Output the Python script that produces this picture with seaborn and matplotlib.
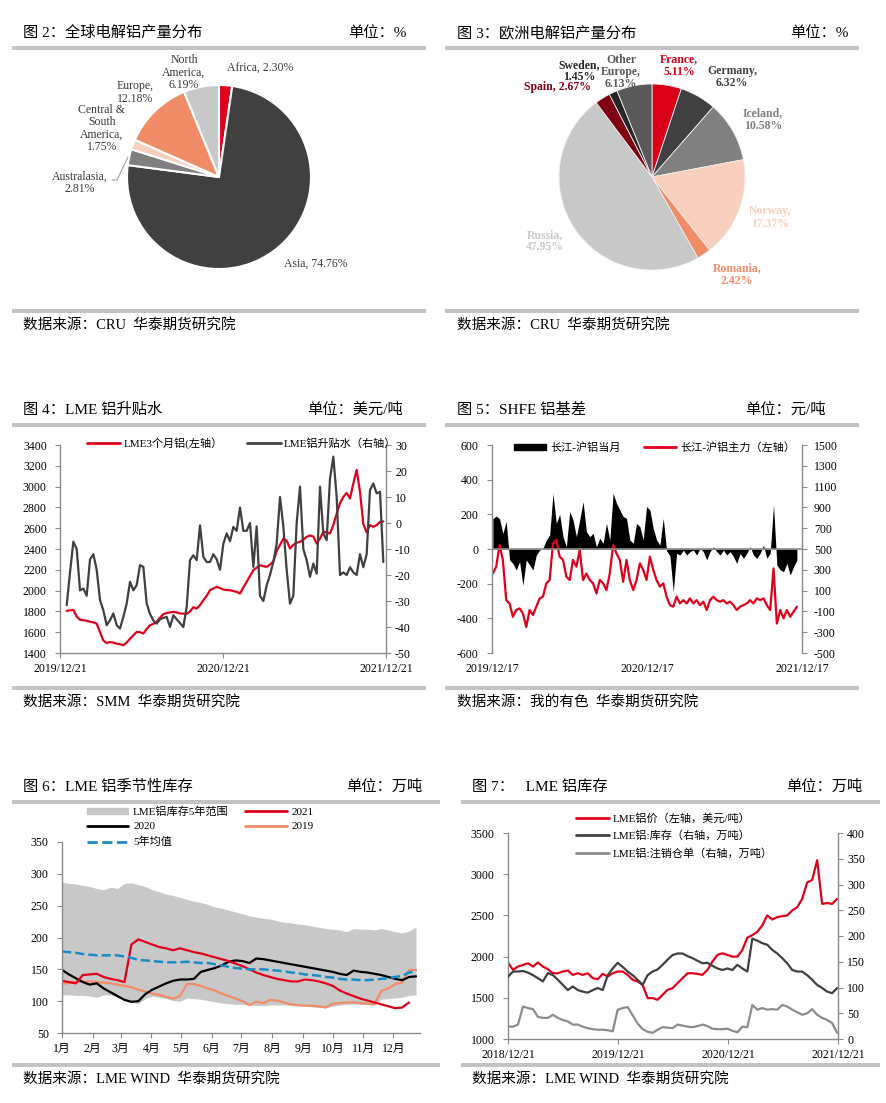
import matplotlib
matplotlib.use("Agg")
import matplotlib.pyplot as plt
import seaborn as sns
import pandas as pd
from matplotlib.lines import Line2D
from matplotlib.patches import Patch, Rectangle

sns.set_theme(style="ticks")
plt.rcParams["font.family"] = ["Liberation Serif", "Noto Sans CJK SC"]
plt.rcParams["axes.unicode_minus"] = False
plt.rcParams["text.color"] = "black"

W, H = 886, 1103
RED = "#E0001B"
DARK = "#404040"
GREY = "#8C8C8C"
AXC = "#8A8A8A"
BAR = "#C3C3C3"

# ---------------- data ----------------
# fig 2: world primary aluminium output share (%)
world_regions = ["Africa", "Asia", "Australasia", "Central &\nSouth\nAmerica", "Europe", "North\nAmerica"]
world_share = [2.30, 74.76, 2.81, 1.75, 12.18, 6.19]
world_colors = [RED, "#404040", "#7F7F7F", "#F9CFBD", "#F08C68", "#C8C8C8"]

# fig 3: europe output share (%)
europe_countries = ["France", "Germany", "Iceland", "Norway", "Romania", "Russia", "Spain", "Sweden", "Other\nEurope"]
europe_share = [5.11, 6.32, 10.58, 17.37, 2.42, 47.95, 2.67, 1.45, 6.13]
europe_colors = ["#DA0018", "#404040", "#808080", "#F9CFBD", "#F08C68", "#C8C8C8", "#7F0012", "#262626", "#595959"]

# fig 4: LME 3M price (left) and LME premium (right)
lme3m = [1805, 1810, 1815, 1750, 1720, 1715, 1710, 1700, 1695, 1683,
         1600, 1520, 1495, 1506, 1500, 1490, 1485, 1474, 1500, 1538,
         1570, 1602, 1600, 1587, 1630, 1667, 1680, 1700, 1740, 1773,
         1785, 1790, 1795, 1790, 1780, 1779, 1775, 1800, 1840, 1827,
         1860, 1907, 1950, 2004, 2020, 2036, 2025, 2010, 2005, 2004,
         1995, 1988, 1972, 2030, 2084, 2140, 2196, 2220, 2244, 2235,
         2228, 2250, 2280, 2380, 2440, 2500, 2480, 2405, 2440, 2460,
         2469, 2490, 2517, 2530, 2520, 2453, 2500, 2565, 2560, 2549,
         2630, 2740, 2840, 2900, 2940, 2886, 3031, 3160, 2950, 2640,
         2560, 2630, 2613, 2630, 2660, 2665]
lme_premium = [-31.6, -19, -7.2, -10, -25.9, -25.2, -28, -14, -12, -18,
               -29.7, -33.6, -39.3, -37.4, -34.8, -39.3, -40.6, -36.1, -31, -22.6,
               -25.9, -23.9, -16.2, -16.9, -31, -35, -37.5, -38.7, -37, -36.5,
               -36.1, -40, -35.5, -37, -38.5, -40, -32.3, -14.3, -12.4, -14.3,
               -0.9, -13, -15, -15, -12, -14, -18, -8, -4, -7,
               -1.5, -3, 6, -3, -3, 0, -16.9, -1.3, -28, -30,
               -24, -20, -15, -8, 10, -1.3, -18, -31, -28, 0,
               14, -10, -14.3, -20.7, -15.6, -19.5, 14, -4, -6.6, 17,
               25.5, 10, -20, -19, -20, -17, -19, -20, -12, -17,
               -12, 12.7, 15.2, 11.4, 12, -15]
lme_dates = pd.date_range("2020-01-05", "2021-12-15", periods=len(lme3m))

# fig 5: SHFE basis
spot_basis = [175, 190, 175, 90, 160, -63, -83, -121, -73, -210,
              -63, -92, -121, -35, -6, 4, 52, 81, 320, 148,
              200, 71, 13, 216, 167, 71, 167, 273, 100, 71,
              90, 13, 62, 33, 148, 52, 322, 264, 225, 187,
              177, 52, 33, 148, 129, 52, 245, 225, 119, 52,
              23, 177, -10, -40, -246, -25, -35, -6, -35, -15,
              -6, -35, 4, -15, -63, -15, 13, -15, -35, -6,
              -35, -15, -44, -83, -25, -54, -25, 13, -35, -54,
              -25, 23, -54, -25, 254, -92, -120, -131, -83, -150,
              -102, -63]
main_basis = [-141, -102, 23, -63, -295, -314, -391, -352, -343, -372,
              -450, -352, -381, -333, -285, -275, -198, -179, 33, 52,
              -44, -63, -160, -179, -63, -102, -6, -179, -141, -179,
              -198, -256, -179, -198, -237, -141, 23, -25, -63, -189,
              -63, -179, -237, -179, -83, -121, -179, -44, -121, -179,
              -217, -198, -275, -324, -333, -275, -314, -295, -314, -285,
              -314, -295, -324, -304, -352, -295, -275, -295, -304, -295,
              -314, -304, -324, -352, -333, -324, -314, -295, -314, -285,
              -295, -285, -324, -352, -112, -430, -352, -400, -352, -391,
              -362, -333]
basis_dates = pd.date_range("2019-12-19", "2021-12-05", periods=len(spot_basis))

# fig 6: LME seasonal stocks (10k t), weekly from Jan 1
week_day = list(range(0, 358, 7))
band_high = [287, 285, 284, 282, 280, 277, 275, 279, 277, 285,
             286, 283, 280, 275, 272, 268, 266, 263, 260, 257,
             255, 252, 248, 246, 243, 240, 237, 234, 232, 230,
             229, 226, 224, 223, 221, 220, 218, 216, 214, 213,
             212, 209, 214, 213, 213, 212, 214, 212, 209, 207,
             210, 217]
band_low = [110, 110, 109, 109, 108, 106, 110, 110, 106, 101,
            98, 96, 104, 108, 106, 104, 101, 100, 105, 104,
            103, 101, 99, 97, 96, 95, 95, 94, 93, 93,
            94, 94, 94, 93, 92, 92, 91, 90, 90, 92,
            94, 95, 95, 95, 95, 94, 103, 104, 105, 106,
            109, 110]
stock_2021 = [132, 130, 128, 141, 142, 143, 138, 135, 133, 130,
              189, 197, 193, 189, 185, 183, 180, 183, 180, 177,
              175, 172, 169, 166, 163, 159, 155, 150, 145, 141,
              138, 135, 133, 131, 131, 134, 133, 131, 128, 124,
              117, 112, 108, 104, 101, 98, 95, 92, 89, 90,
              98]
stock_2020 = [149, 142, 136, 130, 126, 128, 120, 114, 108, 102,
              99, 100, 111, 118, 123, 128, 132, 134, 134, 135,
              146, 149, 152, 156, 162, 164, 163, 160, 167, 166,
              164, 162, 160, 158, 156, 154, 152, 150, 148, 146,
              143, 141, 148, 146, 145, 143, 141, 138, 135, 133,
              138, 139]
stock_2019 = [127, 129, 130, 131, 131, 130, 129, 128, 126, 124,
              122, 118, 115, 112, 110, 107, 104, 108, 127, 127,
              124, 120, 117, 112, 108, 104, 100, 94, 99, 97,
              102, 101, 98, 95, 94, 93, 93, 92, 90, 96,
              97, 98, 98, 97, 96, 95, 116, 120, 127, 129,
              149, 149]
stock_avg5 = [178, 177, 176, 174, 173, 172, 172, 172, 172, 170,
              168, 165, 164, 163, 162, 161, 161, 161, 162, 161,
              160, 160, 158, 156, 154, 152, 151, 150, 150, 150,
              149, 148, 147, 145, 144, 142, 141, 140, 138, 137,
              135, 134, 134, 133, 133, 134, 135, 136, 138, 140,
              145, 147]
month_start = [0, 31, 59, 90, 120, 151, 181, 212, 243, 273, 304, 334]
month_names = ["1月", "2月", "3月", "4月", "5月", "6月", "7月", "8月", "9月", "10月", "11月", "12月"]

# fig 7: LME price, stocks, cancelled warrants
lme_price = [1928, 1839, 1879, 1899, 1919, 1879, 1928, 1879, 1847, 1798,
             1798, 1819, 1831, 1778, 1798, 1778, 1798, 1738, 1726, 1790,
             1758, 1798, 1819, 1819, 1778, 1718, 1698, 1657, 1496, 1496,
             1476, 1536, 1597, 1617, 1678, 1738, 1798, 1798, 1790, 1778,
             1839, 1940, 2020, 2040, 2020, 2000, 2000, 2081, 2230, 2260,
             2300, 2380, 2500, 2450, 2480, 2490, 2500, 2560, 2600, 2700,
             2900, 2930, 3169, 2640, 2650, 2640, 2700]
lme_stock = [121, 131, 131, 132, 129, 124, 118, 112, 128, 124,
             115, 105, 95, 102, 95, 92, 90, 95, 99, 95,
             124, 137, 148, 140, 131, 124, 115, 105, 124, 131,
             135, 144, 154, 163, 166, 166, 161, 157, 152, 147,
             148, 142, 137, 134, 137, 134, 144, 137, 131, 195,
             191, 186, 183, 173, 166, 157, 147, 134, 131, 131,
             124, 115, 105, 99, 92, 89, 99]
lme_cancel = [24, 24, 28, 63, 60, 58, 43, 41, 41, 47,
              41, 37, 34, 28, 28, 24, 21, 19, 18, 18,
              17, 15, 57, 60, 62, 46, 30, 19, 14, 12,
              18, 23, 22, 21, 28, 26, 24, 23, 25, 28,
              25, 20, 19, 19, 20, 16, 13, 24, 23, 66,
              57, 60, 57, 58, 57, 66, 63, 57, 52, 47,
              50, 58, 47, 41, 37, 31, 12]
inv_dates = pd.date_range("2018-12-21", "2021-12-18", periods=len(lme_price))

# ---------------- helpers ----------------
fig = plt.figure(figsize=(W / 100, H / 100), dpi=100)
fig.patch.set_facecolor("white")


def px_box(x0, y0, x1, y1):
    return [x0 / W, 1 - y1 / H, (x1 - x0) / W, (y1 - y0) / H]


def ftext(x, y, s, **kw):
    return fig.text(x / W, 1 - y / H, s, **kw)


def frame(x0, x1, top, bottom, title_x, unit_x, title, unit, source):
    ftext(title_x, top - 15, title, fontsize=11, va="center", ha="left")
    ftext(unit_x, top - 15, unit, fontsize=11, va="center", ha="right")
    for yb in (top, bottom):
        fig.add_artist(Rectangle((x0 / W, 1 - (yb + 2) / H), (x1 - x0) / W, 4 / H,
                                 transform=fig.transFigure, color=BAR, lw=0))
    ftext(title_x, bottom + 14, source, fontsize=10.5, va="center", ha="left")


def style(ax, sides, ypad=5):
    for s in ["left", "right", "top", "bottom"]:
        ax.spines[s].set_visible(s in sides)
        ax.spines[s].set_color(AXC)
        ax.spines[s].set_linewidth(1.0)
    ax.tick_params(colors=AXC, labelcolor="black", labelsize=8.5, length=3.5, width=0.8)
    ax.tick_params(axis="y", pad=ypad)
    ax.set_xlabel("")
    ax.set_ylabel("")


def legend_at(handles, labels, x, y, **kw):
    opts = dict(loc="upper left", bbox_to_anchor=(x / W, 1 - y / H), frameon=False,
                borderpad=0, borderaxespad=0, fontsize=8, handletextpad=0.3)
    opts.update(kw)
    fig.legend(handles, labels, **opts)


# ---------------- fig 2 ----------------
frame(12, 426, 48, 311, 23, 407, "图 2：全球电解铝产量分布", "单位：%", "数据来源：CRU  华泰期货研究院")
R1 = 92
ax1 = fig.add_axes(px_box(219 - R1, 177 - R1, 219 + R1, 177 + R1))
ax1.pie(world_share, colors=world_colors, startangle=90, counterclock=False,
        wedgeprops=dict(edgecolor="white", linewidth=1.5, clip_on=False))
ax1.set_xlim(-1, 1)
ax1.set_ylim(-1, 1)
ax1.axis("off")
world_pos = [(227, 69, "left", " "), (284, 264, "left", " "), (80, 183, "center", "\n"),
             (102, 128.5, "center", "\n"), (135, 92.5, "center", "\n"), (184, 72.5, "center", "\n")]
for name, v, (x, y, ha, sep) in zip(world_regions, world_share, world_pos):
    ftext(x, y, f"{name},{sep}{v:.2f}%", fontsize=8.5, color="#3A3A3A", ha=ha, va="center",
          linespacing=1.05, multialignment="center")
fig.add_artist(Line2D([112 / W, 117 / W, 128 / W], [1 - 180 / H, 1 - 180 / H, 1 - 157 / H],
                      transform=fig.transFigure, color="#A0A0A0", lw=0.8))

# ---------------- fig 3 ----------------
frame(445, 859, 48, 311, 457, 849, "图 3：欧洲电解铝产量分布", "单位：%", "数据来源：CRU  华泰期货研究院")
R2 = 93
ax2 = fig.add_axes(px_box(652 - R2, 177 - R2, 652 + R2, 177 + R2))
ax2.pie(europe_share, colors=europe_colors, startangle=90, counterclock=False,
        wedgeprops=dict(edgecolor="#EEEEEE", linewidth=0.6, clip_on=False))
ax2.set_xlim(-1, 1)
ax2.set_ylim(-1, 1)
ax2.axis("off")
europe_pos = [(679, 65.5, "\n"), (732, 77, "\n"), (763, 119.5, "\n"), (770, 217.5, "\n"),
              (737, 274.5, "\n"), (545, 241, "\n"), (558, 87, " "), (579, 71, "\n"), (621, 72, "\n")]
for name, v, c, (x, y, sep) in zip(europe_countries, europe_share, europe_colors, europe_pos):
    ftext(x, y, f"{name},{sep}{v:.2f}%", fontsize=8.5, color=c, fontweight="bold",
          ha="center", va="center", linespacing=1.05, multialignment="center")

# ---------------- fig 4 ----------------
frame(12, 426, 425, 688, 23, 403, "图 4：LME 铝升贴水", "单位：美元/吨", "数据来源：SMM  华泰期货研究院")
ax3 = fig.add_axes(px_box(60, 445, 386, 653))
sns.lineplot(x=lme_dates, y=lme3m, ax=ax3, color=RED, lw=1.6)
ax3.set_ylim(1400, 3400)
ax3.set_yticks(range(1400, 3401, 200))
ax3.set_xlim(pd.Timestamp("2019-12-21"), pd.Timestamp("2021-12-21"))
ax3.set_xticks(pd.to_datetime(["2019-12-21", "2020-12-21", "2021-12-21"]))
ax3.set_xticklabels(["2019/12/21", "2020/12/21", "2021/12/21"])
style(ax3, ["left", "bottom"], ypad=6)
ax3b = ax3.twinx()
sns.lineplot(x=lme_dates, y=lme_premium, ax=ax3b, color=DARK, lw=1.6)
ax3b.set_ylim(-50, 30)
ax3b.set_yticks(range(-50, 31, 10))
style(ax3b, ["right"], ypad=3)
legend_at([Line2D([], [], color=RED, lw=2), Line2D([], [], color=DARK, lw=2)],
          ["LME3个月铝(左轴）", "LME铝升贴水（右轴）"], 87, 437, ncol=2,
          handlelength=3.0, columnspacing=2.2)

# ---------------- fig 5 ----------------
frame(445, 859, 425, 688, 457, 826, "图 5：SHFE 铝基差", "单位：元/吨", "数据来源：我的有色  华泰期货研究院")
ax4 = fig.add_axes(px_box(492, 445, 802, 653))
ax4.fill_between(basis_dates, 0, spot_basis, color="black", lw=0)
sns.lineplot(x=basis_dates, y=main_basis, ax=ax4, color=RED, lw=1.6)
ax4.axhline(0, color=AXC, lw=1.2)
ax4.set_ylim(-600, 600)
ax4.set_yticks(range(-600, 601, 200))
ax4.set_xlim(pd.Timestamp("2019-12-17"), pd.Timestamp("2021-12-17"))
ax4.set_xticks(pd.to_datetime(["2019-12-17", "2020-12-17", "2021-12-17"]))
ax4.set_xticklabels(["2019/12/17", "2020/12/17", "2021/12/17"])
style(ax4, ["left"], ypad=6)
ax4.tick_params(axis="x", length=0, pad=7)
ax4b = ax4.twinx()
ax4b.set_ylim(-500, 1500)
ax4b.set_yticks(range(-500, 1501, 200))
style(ax4b, ["right"], ypad=5)
legend_at([Patch(color="black"), Line2D([], [], color=RED, lw=2)],
          ["长江-沪铝当月", "长江-沪铝主力（左轴）"], 514, 442, ncol=2,
          handlelength=2.9, handleheight=0.45, columnspacing=2.1, handletextpad=0.35)

# ---------------- fig 6 ----------------
frame(12, 440, 802, 1065, 23, 422, "图 6：LME 铝季节性库存", "单位：万吨", "数据来源：LME WIND  华泰期货研究院")
ax5 = fig.add_axes(px_box(62, 842, 420, 1033))
ax5.fill_between(week_day, band_low, band_high, color="#C8C8C8", lw=0)
sns.lineplot(x=week_day, y=stock_2019, ax=ax5, color="#F08C68", lw=1.6)
sns.lineplot(x=week_day, y=stock_2020, ax=ax5, color="black", lw=1.6)
sns.lineplot(x=week_day[:len(stock_2021)], y=stock_2021, ax=ax5, color=RED, lw=1.6)
sns.lineplot(x=week_day, y=stock_avg5, ax=ax5, color="#1A8CC4", lw=1.8, linestyle="--")
ax5.set_ylim(50, 350)
ax5.set_yticks(range(50, 351, 50))
ax5.set_xlim(0, 361)
ax5.set_xticks(month_start)
ax5.set_xticklabels(month_names, fontsize=8)
style(ax5, ["left", "bottom"], ypad=6)
legend_at([Patch(color="#C8C8C8"), Line2D([], [], color="black", lw=2),
           Line2D([], [], color="#1A8CC4", lw=2, ls="--"),
           Line2D([], [], color=RED, lw=2), Line2D([], [], color="#F08C68", lw=2)],
          ["LME铝库存5年范围", "2020", "5年均值", "2021", "2019"], 87, 806, ncol=2,
          handlelength=3.7, handleheight=0.45, handletextpad=0.45, columnspacing=1.5,
          labelspacing=0.5)

# ---------------- fig 7 ----------------
frame(461, 880, 802, 1065, 472, 862, "图 7：   LME 铝库存", "单位：万吨", "数据来源：LME WIND  华泰期货研究院")
ax6 = fig.add_axes(px_box(508, 833, 838, 1039))
sns.lineplot(x=inv_dates, y=lme_price, ax=ax6, color=RED, lw=1.6)
ax6.set_ylim(1000, 3500)
ax6.set_yticks(range(1000, 3501, 500))
ax6.set_xlim(pd.Timestamp("2018-12-21"), pd.Timestamp("2021-12-21"))
ax6.set_xticks(pd.to_datetime(["2018-12-21", "2019-12-21", "2020-12-21", "2021-12-21"]))
ax6.set_xticklabels(["2018/12/21", "2019/12/21", "2020/12/21", "2021/12/21"])
style(ax6, ["left", "bottom"], ypad=6)
ax6b = ax6.twinx()
sns.lineplot(x=inv_dates, y=lme_stock, ax=ax6b, color=DARK, lw=1.6)
sns.lineplot(x=inv_dates, y=lme_cancel, ax=ax6b, color=GREY, lw=1.6)
ax6b.set_ylim(0, 400)
ax6b.set_yticks(range(0, 401, 50))
style(ax6b, ["right"], ypad=3)
legend_at([Line2D([], [], color=RED, lw=2), Line2D([], [], color=DARK, lw=2),
           Line2D([], [], color=GREY, lw=2)],
          ["LME铝价（左轴，美元/吨）", "LME铝:库存（右轴，万吨）", "LME铝:注销仓单（右轴，万吨）"],
          576, 813, ncol=1, handlelength=3.0, labelspacing=0.6)

fig.savefig("out.png", dpi=100)
